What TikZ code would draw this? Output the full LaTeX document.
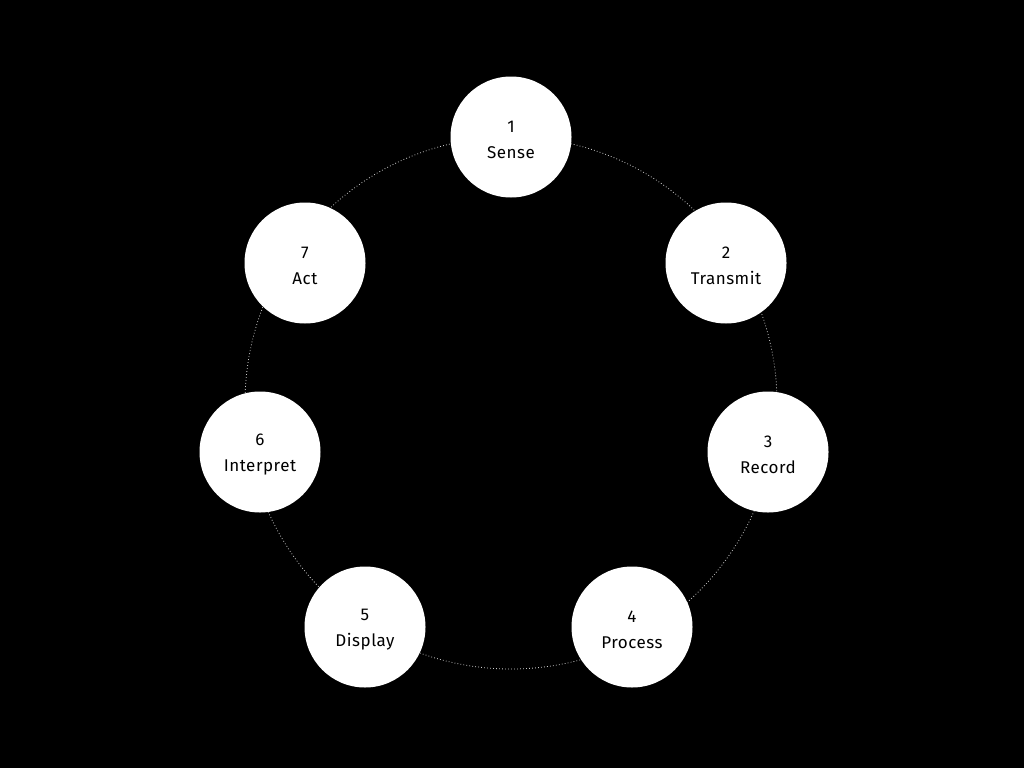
\documentclass[tikz,border=0pt]{standalone}
\usepackage{fontspec}
\setmainfont[LetterSpace=3]{Fira Sans}
\begin{document}
\begin{tikzpicture}[x=1pt,y=-1pt,
  stage/.style={circle,fill=white,minimum size=121pt,inner sep=0pt},
  lbl/.style={align=center,text=black,inner sep=0pt,
    font=\fontsize{17}{26}\selectfont},
  ring/.style={draw=white!80!black,line width=0.8pt,dash pattern=on 0.8pt off 2.2pt}]
\fill[black] (0,0) rectangle (1024,768);
\useasboundingbox (0,0) rectangle (1024,768);
\coordinate (c) at (511,403);
\draw[ring] (c) circle[radius=266];
\foreach \n/\x/\y/\t in {1/511/137/Sense,2/726/263/Transmit,3/768/452/Record,
  4/632/627/Process,5/365/627/Display,6/260/452/Interpret,7/305/263/Act}{
  \node[stage] (n\n) at (\x,\y) {};
  \node[lbl] (t\n) at ([yshift=-2.5pt]n\n.center) {\n\\\t};
}
\end{tikzpicture}
\end{document}
